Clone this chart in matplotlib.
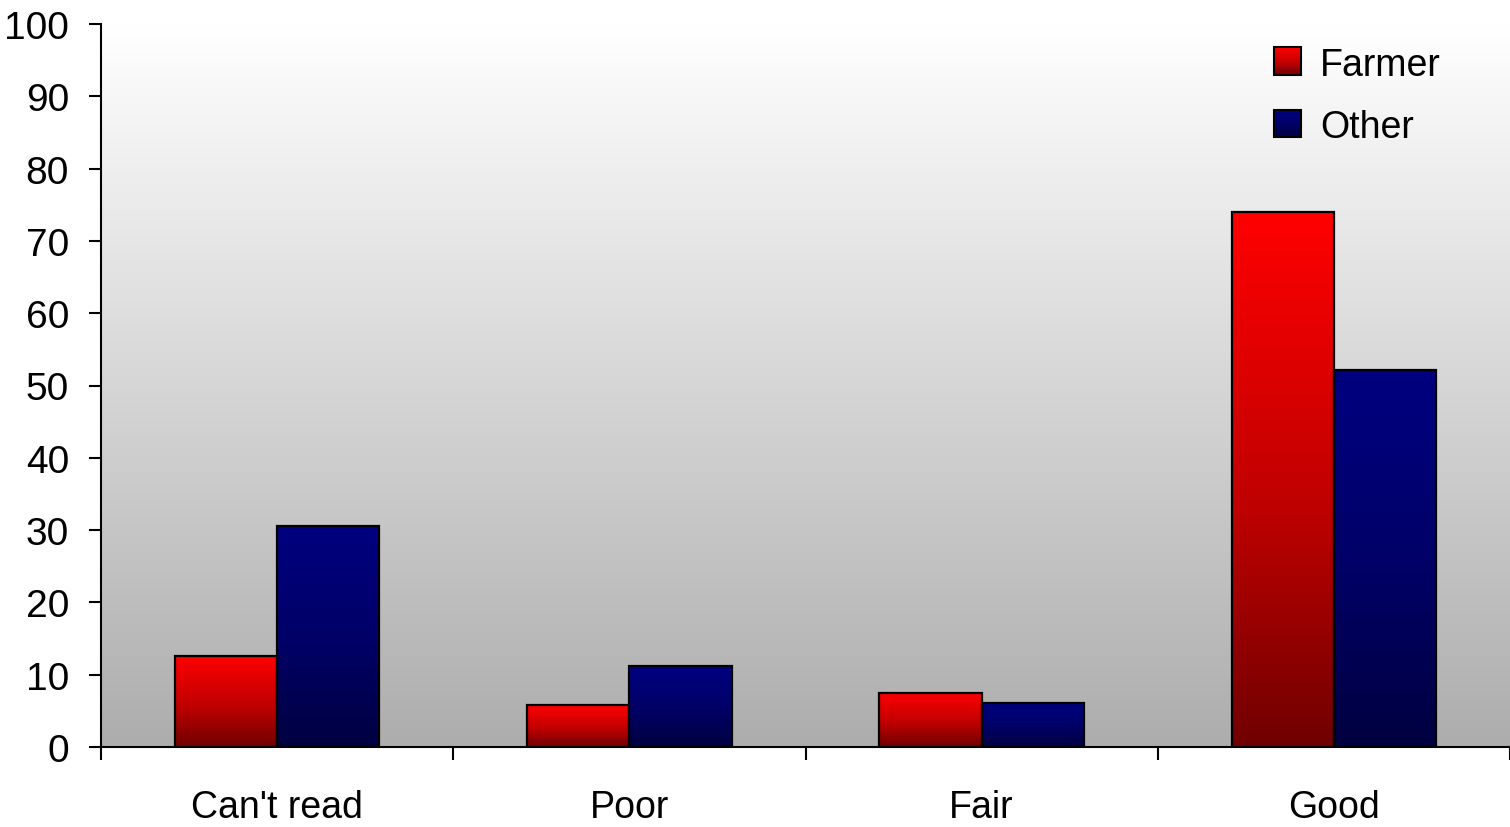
import numpy as np
import matplotlib
matplotlib.use("Agg")
import matplotlib.pyplot as plt
from matplotlib.patches import Rectangle
from matplotlib.colors import LinearSegmentedColormap
from matplotlib.legend_handler import HandlerBase

categories = ["Can't read", "Poor", "Fair", "Good"]
farmer = [12.6, 5.8, 7.5, 74.0]
other = [30.6, 11.2, 6.1, 52.1]
series = ["Farmer", "Other"]

plt.rcParams["font.family"] = ["Liberation Sans Narrow", "Liberation Sans", "DejaVu Sans"]

red_cmap = LinearSegmentedColormap.from_list(
    "red", [(0, "#700000"), (0.45, "#C00000"), (1, "#FF0000")])
blue_cmap = LinearSegmentedColormap.from_list(
    "blue", [(0, "#000040"), (0.5, "#000068"), (1, "#000080")])
bg_cmap = LinearSegmentedColormap.from_list("bg", ["#ADADAD", "#FFFFFF"])

fig = plt.figure(figsize=(15.1, 8.28), dpi=100)
ax = fig.add_axes([101 / 1510, 1 - 748 / 828, 1 - 101 / 1510, (748 - 25) / 828])

x = np.arange(len(categories))
w = 0.29
grad = np.linspace(0, 1, 256).reshape(-1, 1)

ax.set_xlim(-0.5, len(categories) - 0.5)
ax.set_ylim(0, 100)

# background gradient
ax.imshow(grad, cmap=bg_cmap, origin="lower", aspect="auto",
          extent=(-0.5, len(categories) - 0.5, 0, 100), zorder=0)


def grad_bars(xs, vals, cmap):
    for xi, v in zip(xs, vals):
        ax.imshow(grad, cmap=cmap, origin="lower", aspect="auto",
                  extent=(xi - w / 2, xi + w / 2, 0, v), zorder=2)
        ax.add_patch(Rectangle((xi - w / 2, 0), w, v, facecolor="none",
                               edgecolor="black", linewidth=1.6, zorder=3))


grad_bars(x - w / 2, farmer, red_cmap)
grad_bars(x + w / 2, other, blue_cmap)

for s in ("top", "right"):
    ax.spines[s].set_visible(False)
for s in ("left", "bottom"):
    ax.spines[s].set_linewidth(1.5)
    ax.spines[s].set_zorder(4)

ax.set_yticks(np.arange(0, 101, 10))
ax.tick_params(axis="y", direction="out", length=9, width=1.5, pad=14, labelsize=28)
ax.set_xticks(np.arange(-0.5, len(categories), 1.0))
ax.set_xticklabels([])
ax.set_xticks(x, minor=True)
ax.set_xticklabels(categories, minor=True)
ax.tick_params(axis="x", which="major", direction="out", length=9, width=1.5)
ax.tick_params(axis="x", which="minor", length=0, pad=30, labelsize=27)


class GradHandler(HandlerBase):
    def __init__(self, cmap):
        super().__init__()
        self.cmap = cmap

    def create_artists(self, legend, orig_handle, xdescent, ydescent,
                       width, height, fontsize, trans):
        s = height * 1.05
        x0 = -xdescent + (width - s) / 2
        y0 = -ydescent
        arts = []
        n = 12
        for i in range(n):
            c = self.cmap((i + 0.5) / n)
            arts.append(Rectangle((x0, y0 + s * i / n), s, s / n + 0.3,
                                  facecolor=c, edgecolor="none", transform=trans))
        arts.append(Rectangle((x0, y0), s, s, facecolor="none", edgecolor="black",
                              linewidth=1.5, transform=trans))
        return arts


h1 = Rectangle((0, 0), 1, 1)
h2 = Rectangle((0, 0), 1, 1)
ax.legend([h1, h2], series, loc="upper right", bbox_to_anchor=(0.975, 1.015),
          frameon=False, fontsize=27, handlelength=0.85, handletextpad=0.45,
          labelspacing=0.7,
          handler_map={h1: GradHandler(red_cmap), h2: GradHandler(blue_cmap)})

fig.savefig("out.png", dpi=100)
